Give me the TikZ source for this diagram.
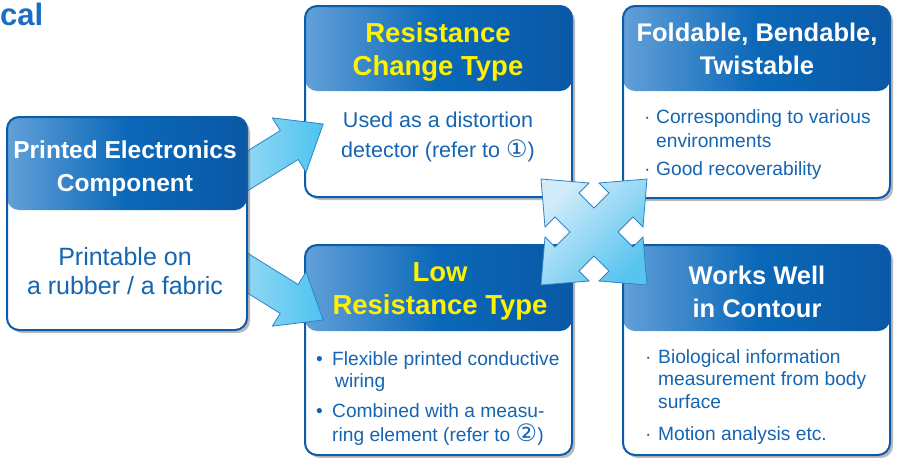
\documentclass[tikz,border=0pt]{standalone}
\usepackage{fontspec}
\setmainfont{Liberation Sans}
\newfontfamily\symfont{DejaVu Sans}
\usetikzlibrary{shadows}

\definecolor{cardline}{HTML}{0D5CAA}
\definecolor{headlight}{HTML}{62A0D8}
\definecolor{headmid}{HTML}{0B68B8}
\definecolor{headdark}{HTML}{0A58A6}
\definecolor{bodyblue}{HTML}{1565B2}
\definecolor{headyellow}{HTML}{FFF200}
\definecolor{titleblue}{HTML}{1A6DC0}
\definecolor{flowlight}{HTML}{A8DEF6}
\definecolor{flowdark}{HTML}{4CC4F0}
\definecolor{flowline}{HTML}{2F83C6}
\definecolor{crosslight}{HTML}{D2ECFA}
\definecolor{crossdark}{HTML}{58C4EE}

\newcommand{\hdsize}[1]{\fontsize{#1}{33}\selectfont\bfseries}
\newcommand{\circnum}[1]{{\symfont\fontsize{24}{24}\selectfont #1}}

\begin{document}
\begin{tikzpicture}[x=1pt,y=-1pt]
    \tikzstyle{card}=[draw=cardline, line width=2pt, rounded corners=12pt, fill=white, inner sep=0pt, outer sep=0pt, anchor=north west, drop shadow={shadow xshift=3pt, shadow yshift=-3pt, fill=black!60, opacity=0.45}]
    \tikzset{header/.style={path picture={\shade[left color=headlight, right color=headdark, middle color=headmid] (path picture bounding box.north west) rectangle ([yshift=-#1]path picture bounding box.north east);}}}
    \tikzstyle{title}=[align=center, text=white, inner sep=0pt]
    \tikzstyle{body}=[align=center, text=bodyblue, inner sep=0pt]
    \tikzstyle{bullets}=[anchor=base west, text=bodyblue, inner sep=0pt]
    \tikzstyle{flowarrow}=[draw=flowline, line width=0.8pt, left color=flowlight, right color=flowdark]
    \tikzstyle{crossarrow}=[draw=flowline, line width=0.8pt, top color=crosslight, bottom color=crossdark, shading angle=45]

    \useasboundingbox[fill=white] (0,0) rectangle (898,458);

    \node[anchor=base west, inner sep=0pt, text=titleblue, font=\fontsize{31}{31}\selectfont\bfseries] (heading) at (0,25) {cal};

    \node[card, header=85pt, minimum width=267, minimum height=191] (rct) at (305,6) {};
    \node[card, header=85pt, minimum width=267, minimum height=192] (fbt) at (623,6) {};
    \node[card, header=86pt, minimum width=267, minimum height=210] (lrt) at (305,245) {};
    \node[card, header=86pt, minimum width=267, minimum height=210] (wwc) at (623,245) {};

    % arrows out of the component box
    \coordinate (up-tail) at (228,183);
    \coordinate (dn-tail) at (228,261);
    \shadedraw[flowarrow, shift={(up-tail)}, rotate=31.8] (0,-17) -- (72,-17) -- (72,-32) -- (112,0) -- (72,32) -- (72,17) -- (0,17) -- cycle;
    \shadedraw[flowarrow, shift={(dn-tail)}, rotate=-31.8] (0,-17) -- (72,-17) -- (72,-32) -- (112,0) -- (72,32) -- (72,17) -- (0,17) -- cycle;

    \node[card, header=93pt, minimum width=240, minimum height=213] (pec) at (7,117) {};

    % four-way arrow between the cards
    \coordinate (hub) at (594,232);
    \shadedraw[crossarrow, shift={(hub)}] (-53,-53) -- (-5,-49) -- (-15,-39) -- (0,-24) -- (15,-39) -- (5,-49) -- (53,-53) -- (49,-5) -- (39,-15) -- (24,0) -- (39,15) -- (49,5) -- (53,53) -- (5,49) -- (15,39) -- (0,24) -- (-15,39) -- (-5,49) -- (-53,53) -- (-49,5) -- (-39,15) -- (-24,0) -- (-39,-15) -- (-49,-5) -- cycle;

    % titles
    \node[title, font=\hdsize{24.5}] (pec-title) at (125,169) {Printed Electronics\\Component};
    \node[title, text=headyellow, font=\hdsize{27.5}] (rct-title) at (438,51.5) {Resistance\\Change Type};
    \node[title, font=\hdsize{25.5}] (fbt-title) at (757,49) {Foldable, Bendable,\\Twistable};
    \node[title, text=headyellow, font=\hdsize{27.5}] (lrt-title) at (440,291.5) {Low\\Resistance Type};
    \node[title, font=\hdsize{25.5}] (wwc-title) at (757,292) {Works Well\\in Contour};

    % texts
    \node[body, font=\fontsize{25}{29.5}\selectfont] (pec-text) at (125,271) {Printable on\\a rubber / a fabric};
    \node[body, font=\fontsize{21.5}{30.5}\selectfont] (rct-text) at (438,137) {Used as a distortion\\detector (refer to \circnum{①})};
    \node[bullets, font=\fontsize{19.2}{24}\selectfont] (fbt-text) at (644,123) {\begin{tabular}[t]{@{}l@{}l@{}}
        \makebox[12pt][l]{·} & Corresponding to various\\
        & environments\\[4pt]
        \makebox[12pt][l]{·} & Good recoverability
    \end{tabular}};
    \node[bullets, font=\fontsize{19.2}{22.5}\selectfont] (lrt-text) at (316,365) {\begin{tabular}[t]{@{}l@{}l@{}}
        \makebox[16pt][l]{•} & Flexible printed conductive\\
        & \hspace{3pt}wiring\\[7.5pt]
        \makebox[16pt][l]{•} & Combined with a measu-\\
        & ring element (refer to \circnum{②})
    \end{tabular}};
    \node[bullets, font=\fontsize{19.2}{22.5}\selectfont] (wwc-text) at (645,363) {\begin{tabular}[t]{@{}l@{}l@{}}
        \makebox[13pt][l]{·} & Biological information\\
        & measurement from body\\
        & surface\\[9.5pt]
        \makebox[13pt][l]{·} & Motion analysis etc.
    \end{tabular}};
\end{tikzpicture}
\end{document}
